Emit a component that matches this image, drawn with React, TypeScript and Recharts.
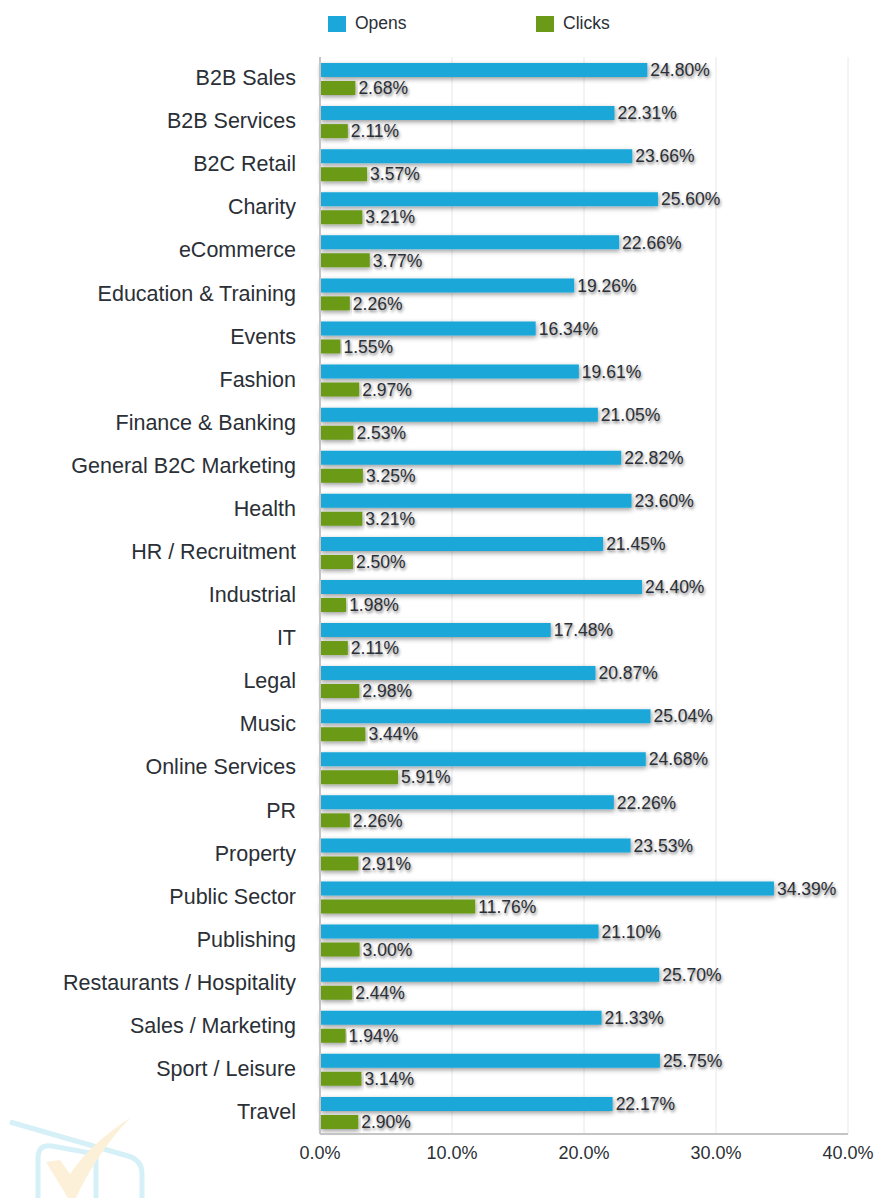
import { Bar, BarChart, CartesianGrid, LabelList, Legend, XAxis, YAxis } from 'recharts'

const categories = [
  'B2B Sales', 'B2B Services', 'B2C Retail', 'Charity', 'eCommerce',
  'Education & Training', 'Events', 'Fashion', 'Finance & Banking', 'General B2C Marketing',
  'Health', 'HR / Recruitment', 'Industrial', 'IT', 'Legal',
  'Music', 'Online Services', 'PR', 'Property', 'Public Sector',
  'Publishing', 'Restaurants / Hospitality', 'Sales / Marketing', 'Sport / Leisure', 'Travel',
]
const opens = [
  24.8, 22.31, 23.66, 25.6, 22.66, 19.26, 16.34, 19.61, 21.05, 22.82, 23.6, 21.45, 24.4,
  17.48, 20.87, 25.04, 24.68, 22.26, 23.53, 34.39, 21.1, 25.7, 21.33, 25.75, 22.17,
]
const clicks = [
  2.68, 2.11, 3.57, 3.21, 3.77, 2.26, 1.55, 2.97, 2.53, 3.25, 3.21, 2.5, 1.98,
  2.11, 2.98, 3.44, 5.91, 2.26, 2.91, 11.76, 3.0, 2.44, 1.94, 3.14, 2.9,
]
const xTicks = [0, 10, 20, 30, 40]

const FONT = '"Liberation Sans", Arial, sans-serif'
const BLUE = '#1ba7d9'
const GREEN = '#6a9a18'
const TEXT = '#2b2f36'

const chartData = categories.map((name, i) => ({ name, opens: opens[i], clicks: clicks[i] }))

const legendItems = [
  { label: 'Opens', color: BLUE, width: 208 },
  { label: 'Clicks', color: GREEN, width: 120 },
]

const valueLabelStyle = {
  fill: TEXT,
  fontSize: 17.5,
  fontFamily: FONT,
  textShadow: '1px 2px 3px rgba(0,0,0,0.5)',
}

function ChartLegend() {
  return (
    <div style={{ display: 'flex', fontFamily: FONT, fontSize: 17.5, color: TEXT }}>
      {legendItems.map((item) => (
        <div key={item.label} style={{ display: 'flex', alignItems: 'center', width: item.width }}>
          <span style={{ width: 18, height: 16, marginRight: 9, background: item.color }} />
          {item.label}
        </div>
      ))}
    </div>
  )
}

// faded logo in the bottom left corner, drawn over the page
function Watermark() {
  return (
    <svg width={160} height={100} style={{ position: 'absolute', left: 0, top: 1098 }}>
      <path d="M10 24 L128 58 Q142 62 142 76 L142 100 M38 100 L38 60 Q38 46 52 48 L96 56 L96 100" fill="none" stroke="#d6f0f7" strokeWidth={5} />
      <path d="M46 64 L68 100 L76 100 Q96 56 130 20 Q90 46 70 76 L60 62 Z" fill="#fdf0d8" />
    </svg>
  )
}

export default function App() {
  return (
    <div style={{ position: 'absolute', left: 0, top: 0, width: 878, height: 1198, background: '#fff' }}>
      <BarChart
        width={878}
        height={1198}
        data={chartData}
        layout="vertical"
        barSize={14}
        barGap={4}
        barCategoryGap={11}
        margin={{ top: 57, right: 30, bottom: 0, left: 0 }}
      >
        <defs>
          <filter id="softShadow" x="-5%" y="-50%" width="110%" height="220%">
            <feDropShadow dx={1} dy={2} stdDeviation={2.5} floodColor="#000" floodOpacity={0.4} />
          </filter>
        </defs>
        <CartesianGrid horizontal={false} stroke="#e8e8e8" />
        <XAxis
          type="number"
          domain={[0, 40]}
          ticks={xTicks}
          height={64}
          tickFormatter={(v) => `${v.toFixed(1)}%`}
          tickLine={false}
          axisLine={{ stroke: '#c4c4c4', strokeWidth: 2 }}
          tick={{ fill: TEXT, fontSize: 18, fontFamily: FONT }}
          tickMargin={6}
        />
        <YAxis
          type="category"
          dataKey="name"
          width={320}
          interval={0}
          tickLine={false}
          axisLine={{ stroke: '#c4c4c4', strokeWidth: 2 }}
          tick={{ fill: TEXT, fontSize: 21.5, fontFamily: FONT, dy: -1 }}
          tickMargin={18}
        />
        <Legend
          layout="horizontal"
          align="center"
          verticalAlign="middle"
          content={<ChartLegend />}
          wrapperStyle={{ left: 328, top: 13, width: 400, bottom: 'auto' }}
        />
        <Bar dataKey="opens" name="Opens" fill={BLUE} isAnimationActive={false} filter="url(#softShadow)">
          <LabelList
            dataKey="opens"
            position="right"
            offset={3}
            formatter={(v: number) => `${v.toFixed(2)}%`}
            style={valueLabelStyle}
          />
        </Bar>
        <Bar dataKey="clicks" name="Clicks" fill={GREEN} isAnimationActive={false} filter="url(#softShadow)">
          <LabelList
            dataKey="clicks"
            position="right"
            offset={3}
            formatter={(v: number) => `${v.toFixed(2)}%`}
            style={valueLabelStyle}
          />
        </Bar>
      </BarChart>
      <Watermark />
    </div>
  )
}
